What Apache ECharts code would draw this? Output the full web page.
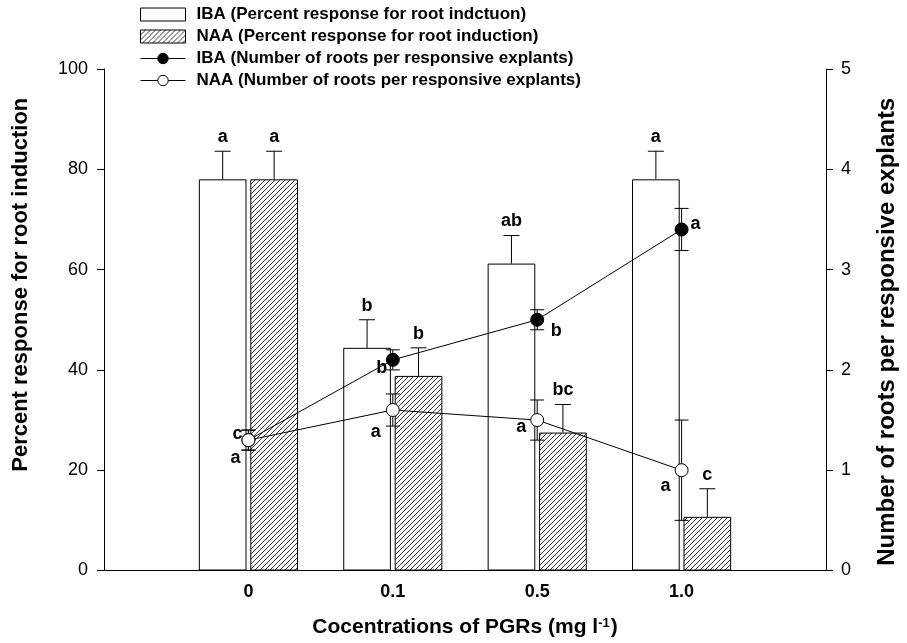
<!DOCTYPE html>
<html>
<head>
<meta charset="utf-8">
<script src="https://cdn.jsdelivr.net/npm/echarts@6/dist/echarts.min.js"></script>
<style>
  html, body { margin: 0; padding: 0; background: #fff; }
  #chart { width: 907px; height: 643px; }
</style>
</head>
<body>
<div id="chart"></div>
<script>
// data
const doses = ['0', '0.1', '0.5', '1.0'];
const ibaPercent = [78, 44.4, 61.2, 78];
const ibaPercentErr = [5.6, 5.6, 5.6, 5.6];
const naaPercent = [78, 38.8, 27.5, 10.7];
const naaPercentErr = [5.6, 5.6, 5.6, 5.6];
const ibaRoots = [1.3, 2.1, 2.5, 3.4];
const ibaRootsErr = [0.1, 0.1, 0.1, 0.21];
const naaRoots = [1.3, 1.6, 1.5, 1.0];
const naaRootsErr = [0.1, 0.16, 0.2, 0.5];
const ibaPercentLetters = ['a', 'b', 'ab', 'a'];
const naaPercentLetters = ['a', 'b', 'bc', 'c'];
const ibaRootsLetters = ['c', 'b', 'b', 'a'];
const naaRootsLetters = ['a', 'a', 'a', 'a'];

// where the letters sit next to the line points (px)
const ibaLetterOffset = [[-11, -6], [-11, 8], [19, 11], [14, -5]];
const naaLetterOffset = [[-13, 18], [-17, 22], [-16, 7], [-16, 16]];

const FONT = '"Liberation Sans", Arial, sans-serif';
const names = [
  'IBA (Percent response for root indctuon)',
  'NAA (Percent response for root induction)',
  'IBA (Number of roots per responsive explants)',
  'NAA (Number of roots per responsive explants)'
];

// empty slot at both ends so the doses sit on ticks 1..4 of 5
const xCats = [''].concat(doses, ['']);
const pad = arr => ['-'].concat(arr, ['-']);

// hatch pattern for NAA bars
function hatch() {
  const c = document.createElement('canvas');
  const s = 5;
  c.width = s; c.height = s;
  const g = c.getContext('2d');
  g.fillStyle = '#fff';
  g.fillRect(0, 0, s, s);
  g.strokeStyle = '#222';
  g.lineWidth = 0.9;
  g.beginPath();
  g.moveTo(-1, s + 1); g.lineTo(s + 1, -1);
  g.moveTo(-1, 1); g.lineTo(1, -1);
  g.moveTo(s - 1, s + 1); g.lineTo(s + 1, s - 1);
  g.stroke();
  return c;
}

const BAR_W = 0.33, BAR_GAP = 0.08;

function letterStyle(t) {
  return { text: t, fill: '#000', font: 'bold 18px ' + FONT, align: 'center', verticalAlign: 'middle' };
}

function barErr(values, errs, letters, side) {
  return {
    type: 'custom',
    yAxisIndex: 0,
    z: 3,
    silent: true,
    data: values.map((v, i) => [i + 1, v, errs[i]]),
    renderItem: function (params, api) {
      const band = api.size([1, 0])[0];
      const bw = band * BAR_W;
      const x = api.coord([api.value(0), 0])[0] + side * (bw + bw * BAR_GAP) / 2;
      const yb = api.coord([api.value(0), api.value(1)])[1];
      const yt = api.coord([api.value(0), api.value(1) + api.value(2)])[1];
      const st = { stroke: '#000', lineWidth: 1 };
      return {
        type: 'group',
        children: [
          { type: 'line', shape: { x1: x, y1: yb, x2: x, y2: yt }, style: st },
          { type: 'line', shape: { x1: x - 8, y1: yt, x2: x + 8, y2: yt }, style: st },
          { type: 'text', x: x, y: yt - 14, style: letterStyle(letters[params.dataIndex]) }
        ]
      };
    }
  };
}

function lineErr(values, errs, letters, offsets) {
  return {
    type: 'custom',
    yAxisIndex: 1,
    z: 4,
    silent: true,
    data: values.map((v, i) => [i + 1, v, errs[i]]),
    renderItem: function (params, api) {
      const p = api.coord([api.value(0), api.value(1)]);
      const hi = api.coord([api.value(0), api.value(1) + api.value(2)])[1];
      const lo = api.coord([api.value(0), api.value(1) - api.value(2)])[1];
      const x = p[0];
      const off = offsets[params.dataIndex];
      const st = { stroke: '#000', lineWidth: 1 };
      return {
        type: 'group',
        children: [
          { type: 'line', shape: { x1: x, y1: lo, x2: x, y2: hi }, style: st },
          { type: 'line', shape: { x1: x - 7, y1: hi, x2: x + 7, y2: hi }, style: st },
          { type: 'line', shape: { x1: x - 7, y1: lo, x2: x + 7, y2: lo }, style: st },
          { type: 'text', x: x + off[0], y: p[1] + off[1], style: letterStyle(letters[params.dataIndex]) }
        ]
      };
    }
  };
}

const chart = echarts.init(document.getElementById('chart'), null, { renderer: 'canvas' });

const titleStyle = { fontFamily: FONT, fontWeight: 'bold', fontSize: 21, color: '#000' };

const option = {
  backgroundColor: '#fff',
  animation: false,
  textStyle: { fontFamily: FONT },
  grid: { left: 104, right: 74, top: 69, bottom: 69 },
  legend: {
    orient: 'vertical',
    left: 135,
    top: 1,
    itemWidth: 45,
    itemHeight: 13,
    itemGap: 5,
    selectedMode: false,
    data: [
      { name: names[0], icon: 'rect' },
      { name: names[1], icon: 'rect' },
      { name: names[2] },
      { name: names[3] }
    ],
    itemStyle: { borderColor: '#000', borderWidth: 1 },
    lineStyle: { color: '#000', width: 1 },
    textStyle: { fontFamily: FONT, fontWeight: 'bold', fontSize: 17, color: '#000', padding: [0, 0, 0, 6] }
  },
  xAxis: {
    type: 'category',
    data: xCats,
    boundaryGap: false,
    name: '{t|Cocentrations of PGRs (mg l}{s|-1}{t|)}',
    nameLocation: 'middle',
    nameGap: 46,
    nameTextStyle: {
      rich: {
        t: titleStyle,
        s: { fontFamily: FONT, fontWeight: 'bold', fontSize: 13, color: '#000', verticalAlign: 'top', padding: [0, 1, 9, 0] }
      }
    },
    axisLine: { lineStyle: { color: '#000', width: 1 } },
    axisTick: { show: false },
    axisLabel: { interval: 0, margin: 13, fontFamily: FONT, fontWeight: 'bold', fontSize: 18, color: '#000' },
    splitLine: { show: false }
  },
  yAxis: [
    {
      type: 'value',
      min: 0, max: 100, interval: 20,
      name: 'Percent response for root induction',
      nameLocation: 'middle',
      nameRotate: 90,
      nameGap: 72,
      // title sits a little above the axis middle in the original
      nameTextStyle: Object.assign({}, titleStyle, { fontSize: 22, padding: [0, 0, 0, 70] }),
      axisLine: { show: true, lineStyle: { color: '#000', width: 1 } },
      axisTick: { show: true, inside: false, length: 7, lineStyle: { color: '#000' } },
      axisLabel: { margin: 16, fontFamily: FONT, fontSize: 18, color: '#000' },
      splitLine: { show: false }
    },
    {
      type: 'value',
      position: 'right',
      min: 0, max: 5, interval: 1,
      name: 'Number of roots per responsive explants',
      nameLocation: 'middle',
      nameRotate: 90,
      nameGap: 49,
      nameTextStyle: Object.assign({}, titleStyle, { fontSize: 24, padding: [0, 24, 0, 0] }),
      axisLine: { show: true, lineStyle: { color: '#000', width: 1 } },
      axisTick: { show: true, inside: false, length: 7, lineStyle: { color: '#000' } },
      axisLabel: { margin: 15, fontFamily: FONT, fontSize: 18, color: '#000' },
      splitLine: { show: false }
    }
  ],
  series: [
    {
      name: names[0],
      type: 'bar',
      yAxisIndex: 0,
      data: pad(ibaPercent),
      barWidth: (BAR_W * 100) + '%',
      barGap: (BAR_GAP * 100) + '%',
      itemStyle: { color: '#fff', borderColor: '#000', borderWidth: 1 },
      z: 2
    },
    {
      name: names[1],
      type: 'bar',
      yAxisIndex: 0,
      data: pad(naaPercent),
      barWidth: (BAR_W * 100) + '%',
      barGap: (BAR_GAP * 100) + '%',
      itemStyle: { color: { image: hatch(), repeat: 'repeat' }, borderColor: '#000', borderWidth: 1 },
      z: 2
    },
    barErr(ibaPercent, ibaPercentErr, ibaPercentLetters, -1),
    barErr(naaPercent, naaPercentErr, naaPercentLetters, 1),
    lineErr(ibaRoots, ibaRootsErr, ibaRootsLetters, ibaLetterOffset),
    lineErr(naaRoots, naaRootsErr, naaRootsLetters, naaLetterOffset),
    {
      name: names[2],
      type: 'line',
      yAxisIndex: 1,
      data: pad(ibaRoots),
      symbol: 'circle',
      symbolSize: 13,
      lineStyle: { color: '#000', width: 1 },
      itemStyle: { color: '#000', borderColor: '#000', borderWidth: 1 },
      z: 5
    },
    {
      name: names[3],
      type: 'line',
      yAxisIndex: 1,
      data: pad(naaRoots),
      symbol: 'circle',
      symbolSize: 13,
      lineStyle: { color: '#000', width: 1 },
      itemStyle: { color: '#fff', borderColor: '#000', borderWidth: 1 },
      z: 6
    }
  ]
};

chart.setOption(option);
</script>
</body>
</html>
